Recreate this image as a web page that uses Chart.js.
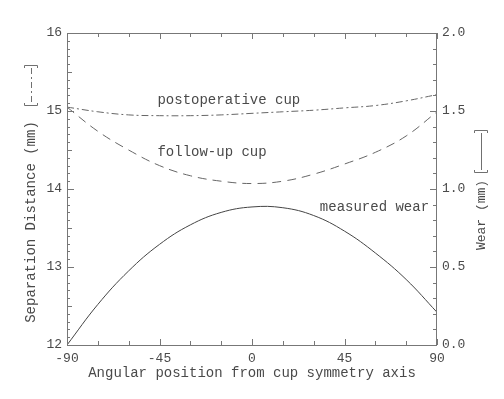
<!DOCTYPE html>
<html>
<head>
<meta charset="utf-8">
<script src="https://cdn.jsdelivr.net/npm/chart.js@4/dist/chart.umd.min.js"></script>
<style>
  html, body { margin: 0; padding: 0; background: #fff; }
  #wrap { width: 504px; height: 399px; }
</style>
</head>
<body>
<div id="wrap"><canvas id="c"></canvas></div>
<script>
// angular position (deg) and readings
const angles = [-90, -75, -60, -45, -30, -15, 0, 15, 30, 45, 60, 75, 90]
const postopCup = [15.05, 14.99, 14.95, 14.94, 14.94, 14.95, 14.97, 14.99, 15.01, 15.04, 15.07, 15.13, 15.21]
const followUpCup = [15.05, 14.74, 14.50, 14.30, 14.17, 14.10, 14.07, 14.10, 14.19, 14.32, 14.47, 14.68, 14.99]
const measuredWear = [0.0, 0.26, 0.475, 0.645, 0.77, 0.85, 0.885, 0.88, 0.83, 0.73, 0.59, 0.42, 0.21]

const xTicks = [-90, -45, 0, 45, 90]
const leftTicks = [12, 13, 14, 15, 16]
const rightTicks = [0, 0.5, 1, 1.5, 2]

const ink = '#4a4a4a'
const frame = '#777'
const mono = '"Liberation Mono", "DejaVu Sans Mono", monospace'

const toPoints = (xs, ys) => xs.map((x, i) => ({ x: x, y: ys[i] }))

// inward tick marks, frame, axis titles and curve labels
const decorations = {
    id: 'decorations',
    afterDraw(chart) {
        const ctx = chart.ctx
        const a = chart.chartArea
        const x = chart.scales.x, yl = chart.scales.y, yr = chart.scales.y1
        const L = Math.round(a.left), R = Math.round(a.right) - 1
        const T = Math.round(a.top), B = Math.round(a.bottom)
        ctx.save()
        ctx.fillStyle = frame
        ctx.fillRect(L, T, R - L + 1, 1)
        ctx.fillRect(L, B, R - L + 1, 1)
        ctx.fillRect(L, T, 1, B - T + 1)
        ctx.fillRect(R, T, 1, B - T + 1)

        for (let v = -90; v <= 90; v += 15) {
            const px = Math.round(x.getPixelForValue(v))
            const len = v % 45 === 0 ? 6 : 4
            ctx.fillRect(px, B - len, 1, len)
            ctx.fillRect(px, T, 1, len)
        }
        for (let i = 0; i <= 40; i++) {
            const py = Math.round(yl.getPixelForValue(12 + i * 0.1))
            const len = i % 10 === 0 ? 7 : (i % 5 === 0 ? 5 : 3)
            ctx.fillRect(L, py, len, 1)
        }
        for (let i = 0; i <= 20; i++) {
            const py = Math.round(yr.getPixelForValue(i * 0.1))
            const len = i % 5 === 0 ? 7 : 4
            ctx.fillRect(R - len + 1, py, len, 1)
        }

        ctx.fillStyle = ink
        ctx.font = '14px ' + mono
        ctx.textBaseline = 'middle'
        ctx.textAlign = 'center'
        ctx.fillText('Angular position from cup symmetry axis', (a.left + a.right) / 2, 373)

        // left title with dash-dot key
        ctx.save()
        ctx.translate(31, 222)
        ctx.rotate(-Math.PI / 2)
        ctx.fillText('Separation Distance (mm)', 0, 0)
        ctx.restore()
        drawKey(ctx, 31, 65, 106, [6, 3, 2, 3])

        // right title with solid key
        ctx.save()
        ctx.font = '13px ' + mono
        ctx.translate(482, 215)
        ctx.rotate(-Math.PI / 2)
        ctx.fillText('Wear (mm)', 0, 0)
        ctx.restore()
        drawKey(ctx, 481, 130, 173, [])

        ctx.textAlign = 'left'
        ctx.font = '14px ' + mono
        ctx.fillText('postoperative cup', x.getPixelForValue(-46), yl.getPixelForValue(15.14))
        ctx.fillText('follow-up cup', x.getPixelForValue(-46), yl.getPixelForValue(14.47))
        ctx.fillText('measured wear', x.getPixelForValue(33), yr.getPixelForValue(0.88))
        ctx.restore()
    }
}

function drawKey(ctx, cx, top, bottom, dash) {
    ctx.save()
    ctx.strokeStyle = '#707070'
    ctx.lineWidth = 1
    ctx.setLineDash([])
    ctx.beginPath()
    ctx.moveTo(cx - 6.5, top + 3); ctx.lineTo(cx - 6.5, top + 0.5); ctx.lineTo(cx + 6.5, top + 0.5); ctx.lineTo(cx + 6.5, top + 3)
    ctx.moveTo(cx - 6.5, bottom - 3); ctx.lineTo(cx - 6.5, bottom - 0.5); ctx.lineTo(cx + 6.5, bottom - 0.5); ctx.lineTo(cx + 6.5, bottom - 3)
    ctx.stroke()
    ctx.setLineDash(dash)
    ctx.beginPath()
    ctx.moveTo(cx + 0.5, top + 3); ctx.lineTo(cx + 0.5, bottom - 3)
    ctx.stroke()
    ctx.restore()
}

const fixWidth = w => scale => { scale.width = w }

const lineStyle = {
    borderWidth: 1,
    pointRadius: 0,
    tension: 0.4,
    fill: false
}

new Chart(document.getElementById('c'), {
    type: 'line',
    data: {
        datasets: [
            Object.assign({
                label: 'postoperative cup',
                data: toPoints(angles, postopCup),
                yAxisID: 'y',
                borderColor: '#666',
                borderDash: [7, 3, 2, 3]
            }, lineStyle),
            Object.assign({
                label: 'follow-up cup',
                data: toPoints(angles, followUpCup),
                yAxisID: 'y',
                borderColor: '#666',
                borderDash: [9, 6]
            }, lineStyle),
            Object.assign({
                label: 'measured wear',
                data: toPoints(angles, measuredWear),
                yAxisID: 'y1',
                borderColor: '#444'
            }, lineStyle)
        ]
    },
    options: {
        responsive: true,
        maintainAspectRatio: false,
        animation: false,
        layout: { padding: { top: 33, left: 0, right: 0, bottom: 0 } },
        plugins: { legend: { display: false }, tooltip: { enabled: false } },
        scales: {
            x: {
                type: 'linear',
                min: -90,
                max: 90,
                afterBuildTicks: s => { s.ticks = xTicks.map(v => ({ value: v })) },
                afterFit: s => { s.height = 54 },
                grid: { display: false, drawTicks: false },
                border: { display: false },
                ticks: { color: ink, padding: 6, font: { family: mono, size: 13 }, maxRotation: 0 }
            },
            y: {
                position: 'left',
                min: 12,
                max: 16,
                afterBuildTicks: s => { s.ticks = leftTicks.map(v => ({ value: v })) },
                afterFit: fixWidth(67),
                grid: { display: false, drawTicks: false },
                border: { display: false },
                ticks: { color: ink, padding: 5, font: { family: mono, size: 13 } }
            },
            y1: {
                position: 'right',
                min: 0,
                max: 2,
                afterBuildTicks: s => { s.ticks = rightTicks.map(v => ({ value: v })) },
                afterFit: fixWidth(67),
                grid: { display: false, drawTicks: false },
                border: { display: false },
                ticks: { color: ink, padding: 5, font: { family: mono, size: 13 }, callback: v => v.toFixed(1) }
            }
        }
    },
    plugins: [decorations]
})
</script>
</body>
</html>
